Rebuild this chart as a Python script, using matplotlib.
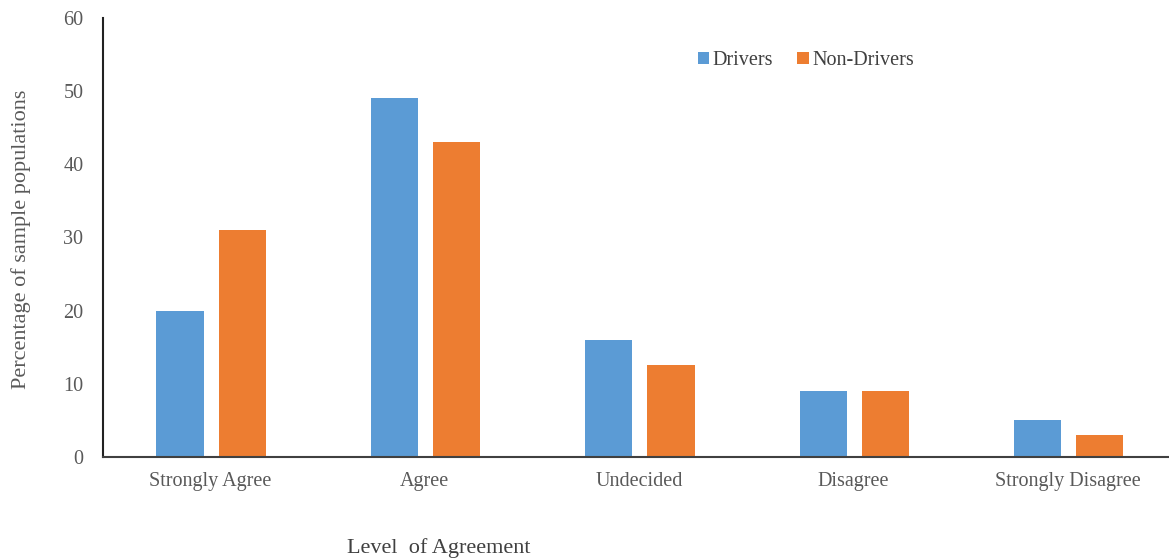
import matplotlib.pyplot as plt
import numpy as np

levels = ["Strongly Agree", "Agree", "Undecided", "Disagree", "Strongly Disagree"]
drivers = [20, 49, 16, 9, 5]
non_drivers = [31, 43, 12.5, 9, 3]

plt.rcParams['font.family'] = ['Liberation Serif', 'DejaVu Serif']
grey = "#595959"

fig = plt.figure(figsize=(11.69, 5.6), dpi=100)
ax = fig.add_axes([0.088, 0.184, 0.917, 0.784])

x = np.arange(len(levels))
w = 0.22
ax.bar(x - 0.14, drivers, w, color="#5b9bd5", label="Drivers")
ax.bar(x + 0.15, non_drivers, w, color="#ed7d31", label="Non-Drivers")

ax.set_xlim(-0.5, 4.5)
ax.set_ylim(0, 60)
ax.set_yticks(range(0, 61, 10))
ax.set_xticks(x)
ax.set_xticklabels(levels)
ax.tick_params(length=0, labelsize=14.5, colors=grey)
ax.tick_params(axis="y", pad=14)
ax.tick_params(axis="x", pad=11)

for s in ["top", "right"]:
    ax.spines[s].set_visible(False)
ax.spines["left"].set_color("#222222")
ax.spines["bottom"].set_color("#404040")
ax.spines["left"].set_linewidth(1.5)
ax.spines["bottom"].set_linewidth(1.5)

leg = ax.legend(loc="upper left", bbox_to_anchor=(0.538, 0.965), ncol=2, frameon=False,
                fontsize=14.5, handlelength=0.55, handleheight=0.55, handletextpad=0.2,
                columnspacing=1.2, labelcolor="#404040")

fig.text(0.018, 0.572, "Percentage of sample populations", rotation=90,
         ha="center", va="center", fontsize=16, color=grey)
fig.text(0.375, 0.022, "Level  of Agreement", ha="center", va="center",
         fontsize=16, color="#404040")

fig.savefig("out.png", dpi=100)
